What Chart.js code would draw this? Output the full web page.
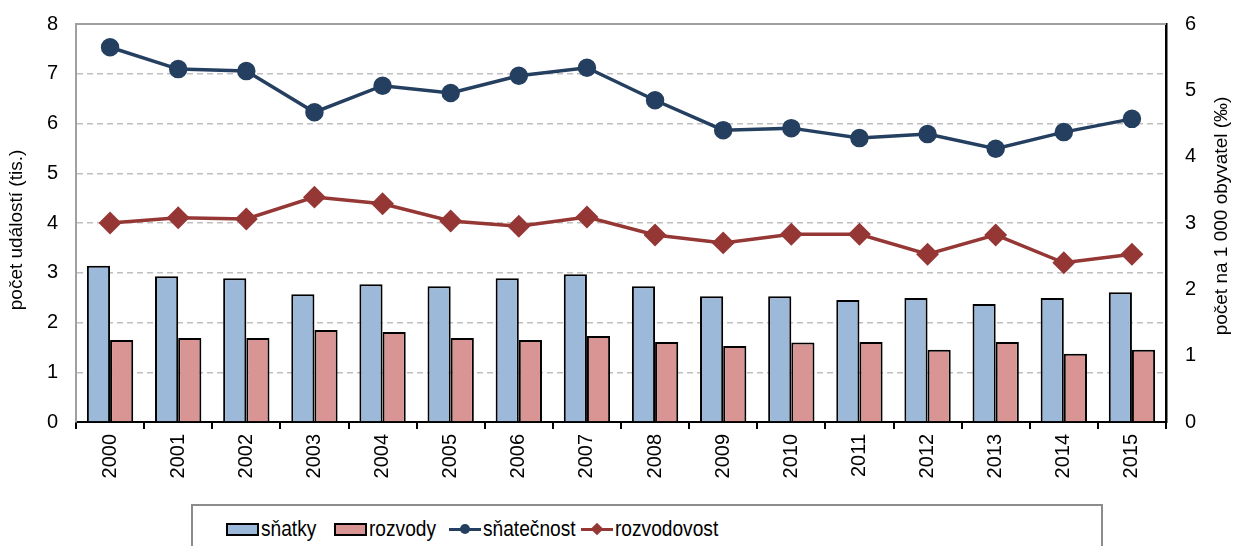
<!DOCTYPE html>
<html lang="cs">
<head>
<meta charset="utf-8">
<script src="https://cdn.jsdelivr.net/npm/chart.js@4.4.1/dist/chart.umd.min.js"></script>
<style>
    html, body { margin: 0; padding: 0; background: #fff; overflow: hidden; }
    #wrap { position: relative; width: 1233px; height: 546px; }
    #chart { position: absolute; left: 0; top: 0; }
    #legend {
        position: absolute; left: 191px; top: 504px; width: 912px; height: 60px;
        border: 2px solid #8c8c8c; box-sizing: border-box;
        font-family: 'Liberation Sans', Arial, sans-serif;
        font-size: 22px; color: #000;
    }
    .item { position: absolute; top: 10px; display: flex; align-items: center; height: 26px; white-space: nowrap; }
    .item b { font-weight: normal; display: inline-block; transform: scaleX(0.87); transform-origin: left center; }
    .box { width: 29px; height: 9px; border: 2px solid #000; margin-right: 2px; }
    .ln { position: relative; width: 32px; height: 3px; margin-right: 2px; }
    .ln i { position: absolute; left: 11px; top: -4px; width: 10px; height: 10px; }
</style>
</head>
<body>
<div id="wrap">
    <canvas id="chart" width="1233" height="500"></canvas>
    <div id="legend">
        <div class="item" style="left:33px"><span class="box" style="background:#9db9d9"></span><b>sňatky</b></div>
        <div class="item" style="left:141px"><span class="box" style="background:#d99594"></span><b>rozvody</b></div>
        <div class="item" style="left:256px"><span class="ln" style="background:#243f60"><i style="background:#243f60;border-radius:50%"></i></span><b>sňatečnost</b></div>
        <div class="item" style="left:388px"><span class="ln" style="background:#953735"><i style="background:#953735;transform:rotate(45deg) scale(0.9)"></i></span><b>rozvodovost</b></div>
    </div>
</div>
<script>
const YEARS = ['2000', '2001', '2002', '2003', '2004', '2005', '2006', '2007',
               '2008', '2009', '2010', '2011', '2012', '2013', '2014', '2015'];

// absolute counts, thousands (left axis)
const SNATKY  = [3.14, 2.93, 2.89, 2.57, 2.77, 2.73, 2.89, 2.97, 2.73, 2.53, 2.53, 2.45, 2.49, 2.37, 2.49, 2.61];
const ROZVODY = [1.65, 1.69, 1.69, 1.85, 1.81, 1.69, 1.65, 1.73, 1.61, 1.53, 1.60, 1.61, 1.45, 1.61, 1.37, 1.45];

// rates per 1 000 inhabitants (right axis)
const SNATECNOST  = [5.65, 5.32, 5.29, 4.67, 5.07, 4.96, 5.22, 5.34, 4.85, 4.40, 4.43, 4.28, 4.34, 4.12, 4.37, 4.57];
const ROZVODOVOST = [3.00, 3.08, 3.06, 3.39, 3.29, 3.03, 2.95, 3.09, 2.82, 2.70, 2.83, 2.83, 2.53, 2.82, 2.40, 2.53];

const LEFT_TITLE = 'počet událostí (tis.)';
const RIGHT_TITLE = 'počet na 1 000 obyvatel (‰)';

const FONT = "'Liberation Sans', Arial, sans-serif";
const GRID_GREY = '#bfbfbf';

function drawVertical(ctx, text, x, y) {
    ctx.save();
    ctx.fillStyle = '#000';
    ctx.font = '19px ' + FONT;
    ctx.textAlign = 'center';
    ctx.textBaseline = 'middle';
    ctx.translate(x, y);
    ctx.rotate(-Math.PI / 2);
    ctx.fillText(text, 0, 0);
    ctx.restore();
}

// top border of the plot + axis titles reading upwards on both sides
const framePlugin = {
    id: 'frame',
    afterDraw(chart) {
        const { ctx, chartArea: a } = chart;
        ctx.save();
        ctx.strokeStyle = '#a0a0a0';
        ctx.lineWidth = 2;
        ctx.beginPath();
        ctx.moveTo(a.left, a.top);
        ctx.lineTo(a.right, a.top);
        ctx.stroke();
        ctx.restore();

        drawVertical(ctx, LEFT_TITLE, 17, 230);
        drawVertical(ctx, RIGHT_TITLE, 1222, 216);
    },
};

function fixWidth(w) {
    return s => { s.width = w; s.paddingTop = 0; s.paddingBottom = 0; };
}

new Chart(document.getElementById('chart'), {
    data: {
        labels: YEARS,
        datasets: [
            {
                type: 'line', label: 'sňatečnost', data: SNATECNOST, yAxisID: 'y2',
                borderColor: '#243f60', backgroundColor: '#243f60', borderWidth: 3.5,
                pointStyle: 'circle', pointRadius: 7.5, pointHoverRadius: 7.5, order: 0,
            },
            {
                type: 'line', label: 'rozvodovost', data: ROZVODOVOST, yAxisID: 'y2',
                borderColor: '#953735', backgroundColor: '#953735', borderWidth: 3.5,
                pointStyle: 'rectRot', pointRadius: 9, pointHoverRadius: 9, order: 1,
            },
            {
                type: 'bar', label: 'sňatky', data: SNATKY, yAxisID: 'y',
                backgroundColor: '#9db9d9', borderColor: '#000', borderWidth: 2,
                barPercentage: 1, categoryPercentage: 0.68, order: 2,
            },
            {
                type: 'bar', label: 'rozvody', data: ROZVODY, yAxisID: 'y',
                backgroundColor: '#d99594', borderColor: '#000', borderWidth: 2,
                barPercentage: 1, categoryPercentage: 0.68, order: 3,
            },
        ],
    },
    options: {
        responsive: false,
        animation: false,
        layout: { padding: { top: 24, left: 0, right: 0, bottom: 0 } },
        plugins: { legend: { display: false }, tooltip: { enabled: false } },
        scales: {
            x: {
                afterFit: s => { s.height = 78; s.paddingLeft = 0; s.paddingRight = 0; },
                grid: { offset: true, drawOnChartArea: false, drawTicks: true, tickLength: 7, color: '#000', lineWidth: 2 },
                border: { color: '#000', width: 2 },
                ticks: { color: '#000', font: { family: FONT, size: 20 }, minRotation: 90, maxRotation: 90, padding: 5 },
            },
            y: {
                position: 'left', min: 0, max: 8,
                afterFit: fixWidth(76),
                grid: { color: GRID_GREY, lineWidth: 1.5, drawTicks: false },
                border: { color: '#a0a0a0', width: 2, dash: [6, 4] },
                ticks: { stepSize: 1, color: '#000', font: { family: FONT, size: 20 }, padding: 18 },
            },
            y2: {
                position: 'right', min: 0, max: 6,
                afterFit: fixWidth(67),
                grid: { drawOnChartArea: false, drawTicks: false },
                border: { color: '#000', width: 2.5 },
                ticks: { stepSize: 1, color: '#000', font: { family: FONT, size: 20 }, padding: 19 },
            },
        },
    },
    plugins: [framePlugin],
});
</script>
</body>
</html>
